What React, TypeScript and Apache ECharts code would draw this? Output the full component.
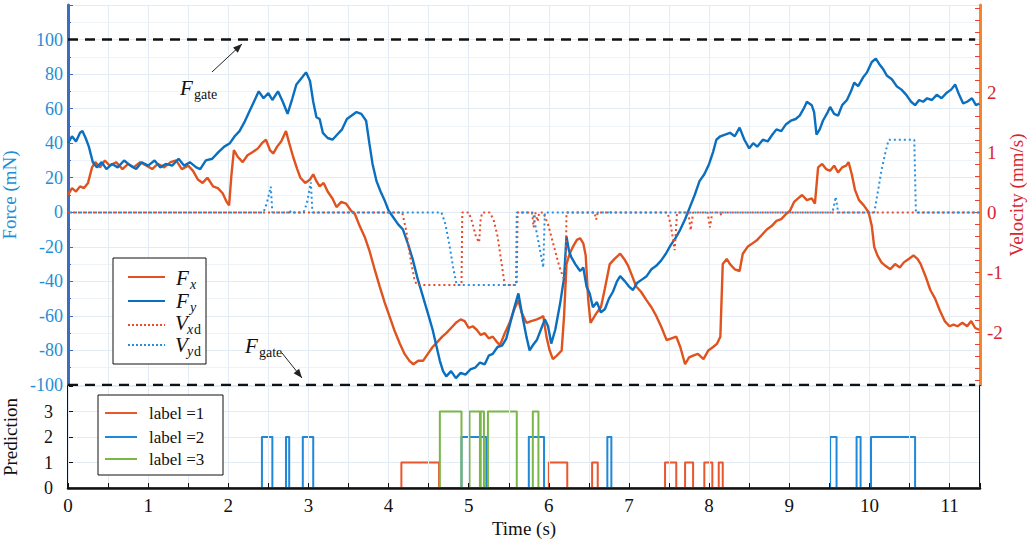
import React, { useEffect, useRef } from "react";
import * as echarts from "echarts";

// ---- Data ----
const fyData: number[][] = [
  [0.0, 40], [0.05, 44], [0.1, 41], [0.15, 46], [0.18, 47], [0.22, 43], [0.26, 38], [0.31, 29], [0.36, 26], [0.42, 29],
  [0.48, 25], [0.55, 28], [0.62, 26], [0.7, 30], [0.78, 27], [0.85, 25], [0.92, 29], [1.0, 27], [1.08, 30], [1.15, 26],
  [1.22, 28], [1.3, 27], [1.38, 31], [1.45, 27], [1.52, 29], [1.6, 26], [1.65, 25], [1.72, 30], [1.8, 31], [1.88, 35],
  [1.95, 38], [2.02, 40], [2.08, 44], [2.14, 47], [2.2, 52], [2.26, 58], [2.32, 64], [2.38, 70], [2.44, 66], [2.5, 69],
  [2.55, 65], [2.62, 70], [2.68, 64], [2.74, 57], [2.8, 66], [2.85, 74], [2.92, 78], [2.97, 81], [3.02, 76], [3.06, 64],
  [3.1, 55], [3.14, 54], [3.18, 46], [3.24, 43], [3.3, 42], [3.36, 45], [3.42, 48], [3.48, 54], [3.54, 56], [3.6, 58],
  [3.66, 57], [3.72, 53], [3.76, 40], [3.8, 28], [3.85, 18], [3.9, 12], [3.95, 7], [4.0, 1], [4.06, -3], [4.12, -7],
  [4.18, -10], [4.24, -18], [4.3, -27], [4.36, -38], [4.43, -49], [4.5, -60], [4.55, -68], [4.6, -78], [4.64, -86], [4.68, -92],
  [4.72, -95], [4.78, -92], [4.84, -96], [4.9, -93], [4.96, -94], [5.02, -91], [5.08, -90], [5.14, -87], [5.2, -88], [5.25, -83],
  [5.3, -82], [5.36, -78], [5.42, -77], [5.47, -73], [5.52, -64], [5.57, -55], [5.62, -47], [5.67, -60], [5.72, -72], [5.76, -80],
  [5.8, -77], [5.85, -74], [5.9, -68], [5.95, -62], [5.99, -66], [6.03, -76], [6.08, -68], [6.14, -53], [6.19, -38], [6.22, -14],
  [6.25, -22], [6.28, -26], [6.33, -30], [6.39, -34], [6.43, -32], [6.47, -43], [6.51, -47], [6.55, -55], [6.6, -52], [6.65, -58],
  [6.7, -56], [6.75, -50], [6.8, -46], [6.85, -40], [6.89, -37], [6.95, -40], [7.0, -43], [7.05, -45], [7.1, -41], [7.16, -39],
  [7.22, -37], [7.28, -33], [7.34, -31], [7.4, -28], [7.46, -24], [7.52, -19], [7.58, -15], [7.64, -10], [7.7, -4], [7.76, 3],
  [7.82, 10], [7.88, 18], [7.94, 22], [8.0, 28], [8.05, 35], [8.09, 42], [8.14, 44], [8.2, 45], [8.26, 46], [8.32, 44],
  [8.38, 49], [8.44, 42], [8.5, 37], [8.55, 40], [8.6, 38], [8.67, 42], [8.73, 41], [8.79, 45], [8.84, 48], [8.9, 47],
  [8.96, 51], [9.02, 53], [9.08, 54], [9.13, 56], [9.18, 60], [9.22, 64], [9.28, 62], [9.31, 58], [9.34, 45], [9.38, 48],
  [9.42, 53], [9.48, 58], [9.51, 61], [9.56, 57], [9.61, 56], [9.66, 62], [9.72, 65], [9.77, 70], [9.81, 75], [9.86, 73],
  [9.92, 78], [9.97, 81], [10.03, 87], [10.08, 89], [10.12, 86], [10.17, 83], [10.22, 79], [10.28, 77], [10.34, 73], [10.4, 71],
  [10.46, 68], [10.52, 64], [10.57, 62], [10.62, 65], [10.67, 64], [10.72, 66], [10.78, 65], [10.84, 68], [10.9, 66], [10.96, 69],
  [11.02, 71], [11.07, 74], [11.12, 68], [11.17, 63], [11.22, 64], [11.28, 66], [11.33, 62], [11.37, 63],
];

const fxData: number[][] = [
  [0.0, 10], [0.05, 14], [0.1, 12], [0.15, 15], [0.2, 14], [0.25, 17], [0.3, 26], [0.34, 29], [0.4, 26], [0.46, 30],
  [0.52, 27], [0.6, 29], [0.68, 25], [0.75, 28], [0.82, 26], [0.9, 29], [0.98, 27], [1.05, 25], [1.12, 28], [1.2, 26],
  [1.28, 29], [1.35, 30], [1.42, 25], [1.5, 27], [1.56, 24], [1.62, 19], [1.68, 17], [1.74, 20], [1.81, 15], [1.87, 14],
  [1.93, 11], [1.98, 6], [2.01, 4], [2.04, 22], [2.07, 36], [2.12, 32], [2.18, 29], [2.24, 33], [2.31, 35], [2.37, 37],
  [2.42, 40], [2.47, 42], [2.52, 36], [2.56, 34], [2.61, 38], [2.66, 41], [2.72, 47], [2.76, 40], [2.81, 32], [2.86, 25],
  [2.9, 20], [2.96, 17], [3.02, 19], [3.06, 22], [3.1, 18], [3.14, 15], [3.19, 17], [3.24, 12], [3.3, 8], [3.35, 3],
  [3.41, 6], [3.47, 5], [3.53, 1], [3.58, -1], [3.64, -8], [3.7, -14], [3.76, -22], [3.82, -32], [3.89, -43], [3.95, -52],
  [4.01, -60], [4.07, -68], [4.14, -76], [4.2, -82], [4.26, -86], [4.31, -88], [4.37, -86], [4.43, -86], [4.49, -82], [4.55, -78],
  [4.61, -75], [4.67, -72], [4.72, -70], [4.78, -67], [4.84, -64], [4.9, -62], [4.95, -63], [5.0, -67], [5.05, -66], [5.1, -68],
  [5.15, -71], [5.2, -70], [5.25, -73], [5.3, -72], [5.35, -75], [5.39, -77], [5.45, -70], [5.51, -64], [5.57, -56], [5.62, -51],
  [5.66, -58], [5.72, -64], [5.78, -63], [5.85, -62], [5.9, -61], [5.93, -60], [5.97, -72], [6.01, -80], [6.05, -85], [6.1, -83],
  [6.16, -80], [6.19, -60], [6.22, -30], [6.26, -24], [6.3, -20], [6.35, -16], [6.39, -15], [6.43, -18], [6.46, -25], [6.49, -50],
  [6.52, -64], [6.56, -61], [6.6, -58], [6.65, -55], [6.7, -44], [6.76, -30], [6.82, -27], [6.89, -24], [6.94, -27], [6.99, -31],
  [7.04, -37], [7.09, -43], [7.15, -46], [7.22, -51], [7.28, -55], [7.34, -60], [7.4, -66], [7.47, -74], [7.53, -73], [7.59, -72],
  [7.64, -78], [7.7, -88], [7.75, -84], [7.8, -83], [7.86, -82], [7.93, -85], [7.99, -80], [8.05, -78], [8.1, -76], [8.14, -72],
  [8.17, -30], [8.22, -27], [8.26, -30], [8.32, -33], [8.38, -34], [8.42, -24], [8.48, -20], [8.54, -18], [8.6, -16], [8.66, -13],
  [8.72, -10], [8.78, -8], [8.84, -5], [8.9, -4], [8.96, -1], [9.01, 1], [9.06, 6], [9.11, 8], [9.16, 10], [9.22, 7],
  [9.28, 8], [9.32, 5], [9.36, 26], [9.41, 28], [9.46, 25], [9.51, 24], [9.56, 27], [9.61, 23], [9.66, 26], [9.71, 27],
  [9.74, 29], [9.78, 22], [9.82, 13], [9.87, 7], [9.93, 4], [9.99, 0], [10.03, -8], [10.06, -20], [10.1, -25], [10.15, -29],
  [10.2, -31], [10.26, -33], [10.32, -30], [10.38, -32], [10.43, -29], [10.49, -27], [10.55, -25], [10.6, -27], [10.64, -30], [10.7, -37],
  [10.76, -45], [10.82, -50], [10.88, -57], [10.94, -63], [11.0, -66], [11.05, -65], [11.1, -66], [11.16, -64], [11.22, -66], [11.27, -63],
  [11.32, -67], [11.37, -68],
];

const vxdData: number[][] = [
  [0, 0], [4.17, 0], [4.22, -0.3], [4.27, -0.75], [4.32, -1.1], [4.35, -1.21], [4.91, -1.21], [4.92, 0], [5.0, 0], [5.04, -0.15],
  [5.09, -0.4], [5.13, -0.5], [5.15, -0.1], [5.17, 0], [5.26, 0], [5.31, -0.12], [5.36, -0.4], [5.41, -0.85], [5.45, -1.21], [5.6, -1.21],
  [5.61, 0], [5.79, 0], [5.81, -0.25], [5.83, 0], [5.86, -0.15], [5.88, 0], [5.93, 0], [5.99, -0.2], [6.06, -0.55], [6.13, -0.9],
  [6.21, -1.2], [6.22, 0], [6.57, 0], [6.59, -0.12], [6.61, 0], [7.48, 0], [7.52, -0.2], [7.57, -0.63], [7.6, 0], [7.74, 0],
  [7.77, -0.3], [7.8, 0], [7.98, 0], [8.01, -0.25], [8.04, 0], [8.14, 0], [8.15, -0.05], [8.16, 0], [11.37, 0],
];

const vydData: number[][] = [
  [0, 0], [2.44, 0], [2.48, 0.15], [2.53, 0.43], [2.55, 0], [2.76, 0], [2.77, 0.03], [2.78, 0], [2.94, 0], [2.98, 0.15],
  [3.03, 0.5], [3.05, 0], [4.66, 0], [4.71, -0.2], [4.76, -0.55], [4.81, -0.95], [4.85, -1.21], [5.59, -1.21], [5.6, 0], [5.8, 0],
  [5.85, -0.35], [5.9, -0.7], [5.93, -0.92], [5.95, 0], [6.75, 0], [6.76, 0.03], [6.77, 0], [9.54, 0], [9.58, 0.26], [9.61, 0],
  [10.06, 0], [10.1, 0.3], [10.15, 0.7], [10.2, 1.0], [10.24, 1.21], [10.56, 1.21], [10.58, 0], [11.37, 0],
];

const fGateValues = [100, -100];
const fGateSpan = [0, 11.32];

// Prediction intervals [start, end] per label
const label1Intervals: number[][] = [
  [4.16, 4.63], [6.0, 6.23], [6.54, 6.61], [7.45, 7.59], [7.7, 7.8], [7.94, 8.04], [8.12, 8.17],
];
const label2Intervals: number[][] = [
  [2.42, 2.55], [2.72, 2.76], [2.93, 3.06], [4.91, 5.22], [5.75, 5.94], [6.73, 6.78], [9.51, 9.59], [9.84, 9.89], [10.02, 10.57],
];
const label3Intervals: number[][] = [
  [4.64, 4.91], [5.01, 5.14], [5.15, 5.19], [5.24, 5.6], [5.8, 5.87],
];

const xLabels = [0, 1, 2, 3, 4, 5, 6, 7, 8, 9, 10, 11];
const forceLabels = [-100, -80, -60, -40, -20, 0, 20, 40, 60, 80, 100];
const velLabels = [-2, -1, 0, 1, 2];
const predLabels = [0, 1, 2, 3];

const X_MAX = 11.38;
const SERIF = "'Liberation Serif', serif";

const C_FX = "#e0531e";
const C_FY = "#0b6fbf";
const C_VXD = "#ea4a26";
const C_VYD = "#2690e0";
const C_L1 = "#e8572d";
const C_L2 = "#1f88d8";
const C_L3 = "#7ab648";
const C_LEFT = "#1e8ed6";
const C_RIGHT = "#d8262e";
const GRID_C = "#e3ebf4";

function stepData(intervals: number[][], level: number): number[][] {
  const out: number[][] = [[0, 0]];
  intervals.forEach(([a, b]) => {
    out.push([a, 0], [a, level], [b, level], [b, 0]);
  });
  out.push([X_MAX, 0]);
  return out;
}

function arrowHead(x1: number, y1: number, x2: number, y2: number, len = 9, w = 3.5) {
  const dx = x2 - x1, dy = y2 - y1;
  const L = Math.sqrt(dx * dx + dy * dy);
  const ux = dx / L, uy = dy / L;
  const bx = x2 - ux * len, by = y2 - uy * len;
  const px = -uy * w, py = ux * w;
  return [[x2, y2], [bx + px, by + py], [bx - px, by - py]];
}

export default function App() {
  const ref = useRef<HTMLDivElement>(null);

  useEffect(() => {
    if (!ref.current) return;
    const chart = echarts.init(ref.current, undefined, { renderer: "svg" });

    const velTicks: number[] = [];
    for (let i = -14; i <= 17; i++) velTicks.push(Math.round(i * 0.2 * 10) / 10);

    const gridTop = { left: 68, top: 5, width: 912, height: 380, outerBoundsMode: "none", containLabel: false };
    const gridBot = { left: 68, top: 386, width: 912, height: 102, outerBoundsMode: "none", containLabel: false };

    const txt = (x: number, y: number, text: string, size: number, italic: boolean, color = "#111") => ({
      type: "text",
      x,
      y,
      z: 101,
      style: {
        text,
        fill: color,
        font: `${italic ? "italic " : ""}${size}px 'Liberation Serif', serif`,
        textVerticalAlign: "middle",
      },
    });

    const legendLine = (y: number, color: string, dotted: boolean) => ({
      type: "line",
      z: 101,
      shape: { x1: 128, y1: y, x2: 165, y2: y },
      style: { stroke: color, lineWidth: 2, lineDash: dotted ? [2, 2] : null },
    });

    const a1 = { x1: 212, y1: 72, x2: 242, y2: 44 };
    const a2 = { x1: 282, y1: 353, x2: 302, y2: 378 };

    const graphic: any[] = [
      // top legend
      { type: "rect", z: 100, shape: { x: 113, y: 258, width: 93, height: 106 }, style: { fill: "#fff", stroke: "#111", lineWidth: 1 } },
      legendLine(277, C_FX, false),
      legendLine(301, C_FY, false),
      legendLine(325, C_VXD, true),
      legendLine(345, C_VYD, true),
      txt(176, 278, "F", 21, true),
      txt(190, 284, "x", 14, true),
      txt(176, 301, "F", 21, true),
      txt(190, 307, "y", 14, true),
      txt(175, 323, "V", 21, true),
      txt(187, 329, "x", 14, true),
      txt(194, 329, "d", 14, false),
      txt(175, 345, "V", 21, true),
      txt(187, 351, "y", 14, true),
      txt(194, 351, "d", 14, false),
      // bottom legend
      { type: "rect", z: 100, shape: { x: 98, y: 395, width: 125, height: 80 }, style: { fill: "#fff", stroke: "#111", lineWidth: 1 } },
      { type: "line", z: 101, shape: { x1: 105, y1: 413, x2: 137, y2: 413 }, style: { stroke: C_L1, lineWidth: 2 } },
      { type: "line", z: 101, shape: { x1: 105, y1: 437, x2: 137, y2: 437 }, style: { stroke: C_L2, lineWidth: 2 } },
      { type: "line", z: 101, shape: { x1: 105, y1: 459, x2: 137, y2: 459 }, style: { stroke: C_L3, lineWidth: 2 } },
      txt(149, 413, "label =1", 17, false),
      txt(149, 437, "label =2", 17, false),
      txt(149, 459, "label =3", 17, false),
      // F_gate annotations
      txt(180, 88, "F", 21, true),
      txt(194, 94, "gate", 14, false),
      { type: "line", z: 101, shape: a1, style: { stroke: "#222", lineWidth: 1 } },
      { type: "polygon", z: 101, shape: { points: arrowHead(a1.x1, a1.y1, a1.x2, a1.y2) }, style: { fill: "#222" } },
      txt(245, 346, "F", 21, true),
      txt(259, 352, "gate", 14, false),
      { type: "line", z: 101, shape: a2, style: { stroke: "#222", lineWidth: 1 } },
      { type: "polygon", z: 101, shape: { points: arrowHead(a2.x1, a2.y1, a2.x2, a2.y2) }, style: { fill: "#222" } },
    ];

    const option: any = {
      animation: false,
      backgroundColor: "#fff",
      grid: [gridTop, gridBot],
      xAxis: [
        {
          type: "value", gridIndex: 0, min: 0, max: X_MAX, interval: 0.5,
          axisLine: { show: false }, axisTick: { show: false }, axisLabel: { show: false },
          splitLine: { show: true, lineStyle: { color: GRID_C, width: 1 } },
        },
        {
          type: "value", gridIndex: 1, min: 0, max: X_MAX, interval: 0.5, z: 5,
          axisLine: { show: true, onZero: false, lineStyle: { color: "#111", width: 2.5 } },
          axisTick: { show: true, inside: true, length: 5, lineStyle: { color: "#111" } },
          axisLabel: {
            color: "#111", fontFamily: SERIF, fontSize: 19, margin: 8,
            formatter: (v: number) => (xLabels.indexOf(v) >= 0 ? String(v) : ""),
          },
          splitLine: { show: true, lineStyle: { color: GRID_C, width: 1 } },
          name: "Time (s)", nameLocation: "middle", nameGap: 31,
          nameTextStyle: { color: "#111", fontFamily: SERIF, fontSize: 19 },
        },
      ],
      yAxis: [
        {
          type: "value", gridIndex: 0, min: -100, max: 120, interval: 20, position: "left",
          axisLine: { show: true, lineStyle: { color: "#3d6cc0", width: 3 } },
          axisTick: { show: true, inside: true, length: 5, lineStyle: { color: "#3d6cc0" } },
          minorTick: { show: true, splitNumber: 2, length: 3, lineStyle: { color: "#3d6cc0" } },
          axisLabel: {
            color: C_LEFT, fontFamily: SERIF, fontSize: 18, margin: 5,
            formatter: (v: number) => (forceLabels.indexOf(v) >= 0 ? String(v) : ""),
          },
          splitLine: { show: true, lineStyle: { color: GRID_C } },
          minorSplitLine: { show: true, lineStyle: { color: "#eef3f8" } },
          name: "Force (mN)", nameLocation: "middle", nameRotate: 90, nameGap: 48,
          nameTextStyle: { color: C_LEFT, fontFamily: SERIF, fontSize: 19 },
        },
        {
          type: "value", gridIndex: 0, min: -2.88, max: 3.46, position: "right",
          axisLine: { show: true, lineStyle: { color: "#f7862b", width: 3 } },
          axisTick: { show: true, inside: true, length: 5, customValues: velTicks, lineStyle: { color: "#e0443a" } },
          axisLabel: { customValues: velLabels, color: C_RIGHT, fontFamily: SERIF, fontSize: 19, margin: 7 },
          splitLine: { show: false },
          name: "Velocity (mm/s)", nameLocation: "middle", nameRotate: 90, nameGap: 27, nameMoveOverlap: false,
          nameTextStyle: { color: C_RIGHT, fontFamily: SERIF, fontSize: 19 },
        },
        {
          type: "value", gridIndex: 1, min: 0, max: 4, interval: 1, position: "left",
          axisLine: { show: true, lineStyle: { color: "#111", width: 2 } },
          axisTick: { show: true, inside: true, length: 5, lineStyle: { color: "#111" } },
          axisLabel: {
            color: "#111", fontFamily: SERIF, fontSize: 18, margin: 15,
            formatter: (v: number) => (predLabels.indexOf(v) >= 0 ? String(v) : ""),
          },
          splitLine: { show: true, lineStyle: { color: GRID_C } },
          name: "Prediction", nameLocation: "middle", nameRotate: 90, nameGap: 48,
          nameTextStyle: { color: "#111", fontFamily: SERIF, fontSize: 19 },
        },
        {
          type: "value", gridIndex: 1, min: 0, max: 4, position: "right",
          axisLine: { show: true, lineStyle: { color: "#111", width: 2 } },
          axisTick: { show: false }, axisLabel: { show: false }, splitLine: { show: false },
        },
      ],
      series: [
        { name: "Fx", type: "line", xAxisIndex: 0, yAxisIndex: 0, data: fxData, showSymbol: false, lineStyle: { color: C_FX, width: 2.4 }, z: 3 },
        { name: "Fy", type: "line", xAxisIndex: 0, yAxisIndex: 0, data: fyData, showSymbol: false, lineStyle: { color: C_FY, width: 2.4 }, z: 3 },
        { name: "Vxd", type: "line", xAxisIndex: 0, yAxisIndex: 1, data: vxdData, showSymbol: false, lineStyle: { color: C_VXD, width: 2, type: [2, 3] }, z: 4 },
        { name: "Vyd", type: "line", xAxisIndex: 0, yAxisIndex: 1, data: vydData, showSymbol: false, lineStyle: { color: C_VYD, width: 2, type: [2, 3], dashOffset: 2.5 }, z: 4 },
        ...fGateValues.map((g) => ({
          name: "Fgate" + g, type: "line", xAxisIndex: 0, yAxisIndex: 0,
          data: [[fGateSpan[0], g], [fGateSpan[1], g]], showSymbol: false,
          lineStyle: { color: "#111", width: 2.5, type: [10, 7] }, z: 5,
        })),
        { name: "label1", type: "line", xAxisIndex: 1, yAxisIndex: 2, data: stepData(label1Intervals, 1), showSymbol: false, lineStyle: { color: C_L1, width: 2, join: "round" }, z: 3 },
        { name: "label2", type: "line", xAxisIndex: 1, yAxisIndex: 2, data: stepData(label2Intervals, 2), showSymbol: false, lineStyle: { color: C_L2, width: 2, join: "round" }, z: 3 },
        { name: "label3", type: "line", xAxisIndex: 1, yAxisIndex: 2, data: stepData(label3Intervals, 3), showSymbol: false, lineStyle: { color: C_L3, width: 2, join: "round" }, z: 3 },
      ],
      graphic,
    };

    chart.setOption(option);
    return () => chart.dispose();
  }, []);

  return <div ref={ref} style={{ position: "fixed", left: 0, top: 0, width: 1031, height: 545 }} />;
}
